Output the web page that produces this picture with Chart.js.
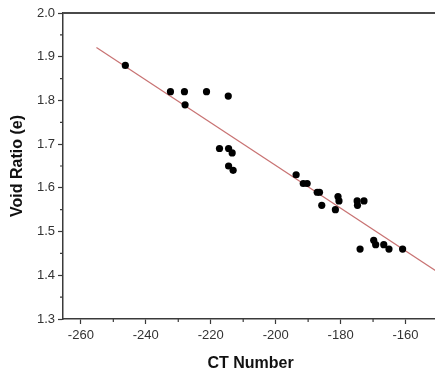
<!DOCTYPE html>
<html>
<head>
<meta charset="utf-8">
<script src="https://cdn.jsdelivr.net/npm/chart.js@4"></script>
<style>
  html, body { margin: 0; padding: 0; background: #fff; overflow: hidden; }
  #wrap { width: 442px; height: 374px; }
</style>
</head>
<body>
<div id="wrap"><canvas id="grafica" width="442" height="374"></canvas></div>
<script>
// measured points (CT number, void ratio)
const ctNumber = [-246.3, -232.4, -228.1, -227.9, -221.3, -214.6, -217.3, -214.5, -213.4, -214.5,
  -213.1, -193.7, -191.5, -190.3, -187.2, -186.5, -185.8, -181.6, -180.8, -180.5,
  -174.9, -174.8, -172.8, -174.0, -169.8, -169.2, -166.7, -165.1, -160.9]
const voidRatio = [1.88, 1.82, 1.82, 1.79, 1.82, 1.81, 1.69, 1.69, 1.68, 1.65,
  1.64, 1.63, 1.61, 1.61, 1.59, 1.59, 1.56, 1.55, 1.58, 1.57,
  1.57, 1.56, 1.57, 1.46, 1.48, 1.47, 1.47, 1.46, 1.46]

// fitted line ends
const fitX = [-255.2, -150]
const fitY = [1.921, 1.407]

const xTicks = [-260, -240, -220, -200, -180, -160]
const yTicks = [1.3, 1.4, 1.5, 1.6, 1.7, 1.8, 1.9, 2.0]

const fuente = "'Liberation Sans', Arial, sans-serif"
const ejeColor = "#3a3a3a"

function esMayor(v, paso) {
    return Math.abs(v / paso - Math.round(v / paso)) < 1e-6
}

// short minor ticks + top frame line
const marcas = {
    id: "marcas",
    afterDraw(chart) {
        const ctx = chart.ctx
        const a = chart.chartArea
        const x = chart.scales.x
        const y = chart.scales.y
        ctx.save()
        ctx.strokeStyle = ejeColor
        ctx.lineWidth = 1.2
        ctx.beginPath()
        for (let v = -260; v <= -150; v += 10) {
            if (esMayor(v, 20)) continue
            const px = x.getPixelForValue(v)
            ctx.moveTo(px, a.bottom)
            ctx.lineTo(px, a.bottom + 3)
        }
        for (let i = 0; i < yTicks.length - 1; i++) {
            const py = y.getPixelForValue(yTicks[i] + 0.05)
            ctx.moveTo(a.left, py)
            ctx.lineTo(a.left - 3, py)
        }
        ctx.stroke()
        ctx.strokeStyle = "#4a4a4a"
        ctx.lineWidth = 1.8
        ctx.beginPath()
        ctx.moveTo(a.left, a.top)
        ctx.lineTo(a.right + 5, a.top)
        ctx.stroke()
        ctx.restore()
    }
}

const puntos = ctNumber.map((v, i) => ({ x: v, y: voidRatio[i] }))
const recta = fitX.map((v, i) => ({ x: v, y: fitY[i] }))

new Chart(document.getElementById("grafica").getContext("2d"), {
    type: "scatter",
    data: {
        datasets: [
            {
                label: "Ajuste",
                data: recta,
                showLine: true,
                borderColor: "#c87272",
                borderWidth: 1.2,
                pointRadius: 0,
                order: 2
            },
            {
                label: "Datos",
                data: puntos,
                backgroundColor: "#000",
                borderColor: "#000",
                pointRadius: 3.6,
                borderWidth: 0,
                order: 1
            }
        ]
    },
    options: {
        responsive: false,
        animation: false,
        layout: { padding: { left: 0, top: 13, right: 2, bottom: 0 } },
        plugins: { legend: { display: false }, tooltip: { enabled: false } },
        scales: {
            x: {
                type: "linear",
                min: -265.5,
                max: -150,
                afterFit(s) { s.height = 55 },
                afterBuildTicks(s) { s.ticks = xTicks.map(v => ({ value: v })) },
                ticks: {
                    font: { family: fuente, size: 13 },
                    color: "#333",
                    padding: 4,
                    maxRotation: 0,
                    autoSkip: false
                },
                grid: { drawOnChartArea: false, tickLength: 5, tickColor: ejeColor, tickWidth: 1.2 },
                border: { color: ejeColor, width: 1.5 },
                title: {
                    display: true,
                    text: "CT Number",
                    font: { family: fuente, size: 16, weight: "bold" },
                    color: "#111",
                    padding: { top: 0, bottom: 1 }
                }
            },
            y: {
                type: "linear",
                min: 1.3,
                max: 2.0,
                afterFit(s) { s.width = 63 },
                afterBuildTicks(s) { s.ticks = yTicks.map(v => ({ value: v })) },
                ticks: {
                    font: { family: fuente, size: 13 },
                    color: "#333",
                    padding: 3,
                    autoSkip: false,
                    callback: v => v.toFixed(1)
                },
                grid: { drawOnChartArea: false, tickLength: 5, tickColor: ejeColor, tickWidth: 1.2 },
                border: { color: ejeColor, width: 1.5 },
                title: {
                    display: true,
                    text: "Void Ratio (e)",
                    font: { family: fuente, size: 16, weight: "bold" },
                    color: "#111",
                    padding: { top: 8, bottom: 0 }
                }
            }
        }
    },
    plugins: [marcas]
})
</script>
</body>
</html>
